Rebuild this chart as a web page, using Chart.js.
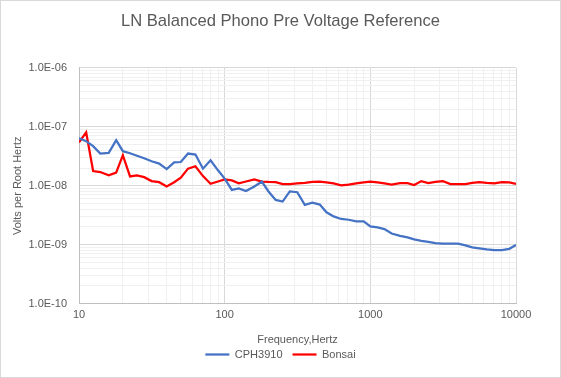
<!DOCTYPE html>
<html>
<head>
<meta charset="utf-8">
<script src="https://cdn.jsdelivr.net/npm/chart.js@4/dist/chart.umd.min.js"></script>
<style>
html, body { margin: 0; padding: 0; background: #fff; }
#wrap { width: 559px; height: 376px; border: 1px solid #d9d9d9; position: relative; }
</style>
</head>
<body>
<div id="wrap"><canvas id="noiseChart"></canvas></div>
<script>
// 1/6-octave frequency points, Hz
const freqHz = [
    10, 11.2, 12.5, 14, 16, 18, 20, 22.4, 25, 28,
    31.5, 35.5, 40, 45, 50, 56, 63, 71, 80, 90,
    100, 112, 125, 140, 160, 180, 200, 224, 250, 280,
    315, 355, 400, 450, 500, 560, 630, 710, 800, 900,
    1000, 1120, 1250, 1400, 1600, 1800, 2000, 2240, 2500, 2800,
    3150, 3550, 4000, 4500, 5000, 5600, 6300, 7100, 8000, 9000,
    10000
];

// Volts per root Hertz
const cph3910 = [
    6.36e-8, 5.72e-8, 4.7e-8, 3.52e-8, 3.61e-8, 5.95e-8, 3.86e-8, 3.57e-8, 3.23e-8, 2.93e-8,
    2.6e-8, 2.38e-8, 1.92e-8, 2.5e-8, 2.53e-8, 3.52e-8, 3.39e-8, 1.95e-8, 2.71e-8, 1.83e-8,
    1.32e-8, 8.5e-9, 9.0e-9, 8.15e-9, 9.7e-9, 1.18e-8, 8.0e-9, 5.76e-9, 5.39e-9, 8.0e-9,
    7.77e-9, 4.73e-9, 5.18e-9, 4.79e-9, 3.54e-9, 3.02e-9, 2.73e-9, 2.65e-9, 2.48e-9, 2.48e-9,
    2.04e-9, 1.96e-9, 1.84e-9, 1.55e-9, 1.41e-9, 1.33e-9, 1.23e-9, 1.16e-9, 1.12e-9, 1.06e-9,
    1.04e-9, 1.04e-9, 1.04e-9, 9.7e-10, 9.0e-10, 8.64e-10, 8.3e-10, 8.05e-10, 8.05e-10, 8.5e-10,
    9.9e-10
];

const bonsai = [
    5.43e-8, 8.05e-8, 1.78e-8, 1.71e-8, 1.5e-8, 1.67e-8, 3.3e-8, 1.44e-8, 1.5e-8, 1.4e-8,
    1.2e-8, 1.15e-8, 9.7e-9, 1.15e-8, 1.37e-8, 1.95e-8, 2.14e-8, 1.46e-8, 1.08e-8, 1.18e-8,
    1.28e-8, 1.23e-8, 1.1e-8, 1.18e-8, 1.28e-8, 1.18e-8, 1.16e-8, 1.15e-8, 1.07e-8, 1.07e-8,
    1.1e-8, 1.12e-8, 1.16e-8, 1.18e-8, 1.14e-8, 1.1e-8, 1.02e-8, 1.05e-8, 1.1e-8, 1.14e-8,
    1.18e-8, 1.14e-8, 1.1e-8, 1.05e-8, 1.11e-8, 1.11e-8, 1.03e-8, 1.2e-8, 1.11e-8, 1.16e-8,
    1.2e-8, 1.07e-8, 1.07e-8, 1.07e-8, 1.12e-8, 1.15e-8, 1.12e-8, 1.1e-8, 1.15e-8, 1.14e-8,
    1.08e-8
];

const xDecades = [10, 100, 1000, 10000];
const xTickLabels = ['10', '100', '1000', '10000'];
const yDecades = [1e-10, 1e-9, 1e-8, 1e-7, 1e-6];
const yTickLabels = ['1.0E-10', '1.0E-09', '1.0E-08', '1.0E-07', '1.0E-06'];

const textColor = '#595959';
const fontFamily = '"Liberation Sans", Arial, sans-serif';

// major + minor (2..9) log ticks
function logTicks(decades) {
    const out = [];
    for (let i = 0; i < decades.length - 1; i++) {
        for (let m = 1; m < 10; m++) out.push(m * decades[i]);
    }
    out.push(decades[decades.length - 1]);
    return out;
}

function decadeIndex(decades, v) {
    return decades.findIndex(d => Math.abs(Math.log10(v) - Math.log10(d)) < 1e-6);
}

function pairs(ys) {
    return freqHz.map((f, i) => ({ x: f, y: ys[i] }));
}

const chart = new Chart(document.getElementById('noiseChart'), {
    type: 'line',
    data: {
        datasets: [{
            label: 'CPH3910',
            data: pairs(cph3910),
            borderColor: '#4472C4',
            backgroundColor: '#4472C4',
            borderWidth: 2.25,
            pointRadius: 0,
            tension: 0
        }, {
            label: 'Bonsai',
            data: pairs(bonsai),
            borderColor: '#FF0000',
            backgroundColor: '#FF0000',
            borderWidth: 2.25,
            pointRadius: 0,
            tension: 0
        }]
    },
    options: {
        responsive: true,
        maintainAspectRatio: false,
        animation: false,
        layout: {
            padding: { left: 10, right: 10, top: 8, bottom: 7 }
        },
        plugins: {
            title: {
                display: true,
                text: 'LN Balanced Phono Pre Voltage Reference',
                color: textColor,
                font: { family: fontFamily, size: 16.6, weight: 'normal' },
                padding: { top: 2, bottom: 37 }
            },
            legend: {
                position: 'bottom',
                labels: {
                    color: textColor,
                    font: { family: fontFamily, size: 11 },
                    usePointStyle: true,
                    pointStyle: 'line',
                    pointStyleWidth: 24,
                    padding: 10
                }
            },
            tooltip: { enabled: false }
        },
        scales: {
            x: {
                type: 'logarithmic',
                min: 10,
                max: 10000,
                afterBuildTicks: scale => {
                    scale.ticks = logTicks(xDecades).map(v => ({ value: v }));
                },
                afterFit: scale => {
                    scale.paddingRight = 44;
                },
                ticks: {
                    autoSkip: false,
                    maxRotation: 0,
                    color: textColor,
                    font: { family: fontFamily, size: 11 },
                    padding: 5,
                    callback: value => {
                        const i = decadeIndex(xDecades, value);
                        return i >= 0 ? xTickLabels[i] : '';
                    }
                },
                grid: {
                    drawTicks: false,
                    color: ctx => decadeIndex(xDecades, ctx.tick.value) >= 0 ? '#d9d9d9' : '#f0f0f0'
                },
                border: { color: '#bfbfbf' },
                title: {
                    display: true,
                    text: 'Frequency,Hertz',
                    color: textColor,
                    font: { family: fontFamily, size: 11 },
                    padding: { top: 6.6, bottom: -7.6 }
                }
            },
            y: {
                type: 'logarithmic',
                min: 1e-10,
                max: 1e-6,
                afterBuildTicks: scale => {
                    scale.ticks = logTicks(yDecades).map(v => ({ value: v }));
                },
                afterFit: scale => {
                    scale.width = 68;
                },
                ticks: {
                    autoSkip: false,
                    color: textColor,
                    font: { family: fontFamily, size: 11 },
                    padding: 12,
                    callback: value => {
                        const i = decadeIndex(yDecades, value);
                        return i >= 0 ? yTickLabels[i] : '';
                    }
                },
                grid: {
                    drawTicks: false,
                    color: ctx => decadeIndex(yDecades, ctx.tick.value) >= 0 ? '#d9d9d9' : '#f0f0f0'
                },
                border: { color: '#bfbfbf' },
                title: {
                    display: true,
                    text: 'Volts per Root Hertz',
                    color: textColor,
                    font: { family: fontFamily, size: 11 },
                    padding: { top: 0, bottom: 6 }
                }
            }
        }
    }
});
</script>
</body>
</html>
